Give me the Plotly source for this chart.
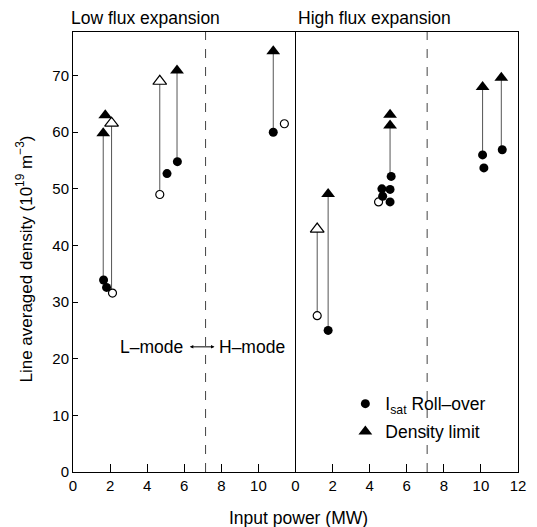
import plotly.graph_objects as go

# ---------------- data (input power MW, density 1e19 m^-3) ----------------
# Low flux expansion
low_tri_x = [1.63, 1.74, 5.61, 10.80]
low_tri_y = [59.8, 63.0, 70.9, 74.3]
low_otri_x = [2.08, 4.68]
low_otri_y = [61.6, 69.0]
low_circ_x = [1.65, 1.81, 5.07, 5.63, 10.80]
low_circ_y = [33.9, 32.6, 52.7, 54.8, 60.0]
low_ocirc_x = [2.13, 4.68, 11.40]
low_ocirc_y = [31.6, 49.0, 61.5]
# links: x, density limit, roll-over
low_link_x = [1.63, 2.08, 4.68, 5.61, 10.80]
low_link_top = [59.8, 61.6, 69.0, 70.9, 74.3]
low_link_bot = [33.9, 31.6, 49.0, 54.8, 60.0]

# High flux expansion
high_tri_x = [1.76, 5.10, 5.10, 10.09, 11.10]
high_tri_y = [49.1, 63.1, 61.2, 68.0, 69.6]
high_otri_x = [1.17]
high_otri_y = [42.9]
high_circ_x = [1.76, 5.16, 4.66, 5.10, 4.70, 5.10, 10.09, 10.16, 11.15]
high_circ_y = [25.0, 52.2, 50.0, 49.9, 48.7, 47.7, 56.0, 53.7, 56.9]
high_ocirc_x = [1.17, 4.48]
high_ocirc_y = [27.6, 47.7]
high_link_x = [1.17, 1.76, 5.10, 10.09, 11.10]
high_link_top = [42.9, 49.1, 61.2, 68.0, 69.6]
high_link_bot = [27.6, 25.0, 52.2, 56.0, 56.9]

lh_threshold = [7.15, 7.10]  # L-H transition power for each panel
y_ticks = [0, 10, 20, 30, 40, 50, 60, 70]

FONT = "Liberation Sans, Arial, Helvetica, sans-serif"
fig = go.Figure()


def link_xy(xs, tops, bots):
    X, Y = [], []
    for x, t, b in zip(xs, tops, bots):
        X += [x, x, None]
        Y += [t, b, None]
    return X, Y


for xa, ya, lx, lt, lb in [("x", "y", low_link_x, low_link_top, low_link_bot),
                            ("x2", "y2", high_link_x, high_link_top, high_link_bot)]:
    X, Y = link_xy(lx, lt, lb)
    fig.add_trace(go.Scatter(x=X, y=Y, mode="lines", xaxis=xa, yaxis=ya,
                             line=dict(color="#555555", width=1), showlegend=False,
                             hoverinfo="skip"))

# dashed L-H lines
for xa, ya, xv in [("x", "y", lh_threshold[0]), ("x2", "y2", lh_threshold[1])]:
    fig.add_trace(go.Scatter(x=[xv, xv], y=[0, 77.7], mode="lines", xaxis=xa, yaxis=ya,
                             line=dict(color="#444444", width=1, dash="dash"),
                             showlegend=False, hoverinfo="skip"))

circ = dict(symbol="circle", size=9, color="black")
tri = dict(symbol="triangle-up", size=12, color="black")
ocirc = dict(symbol="circle", size=8, color="white", line=dict(color="black", width=1.2))
otri = dict(symbol="triangle-up", size=12, color="white", line=dict(color="black", width=1.2))

panels = [("x", "y", low_tri_x, low_tri_y, low_otri_x, low_otri_y, low_circ_x, low_circ_y,
           low_ocirc_x, low_ocirc_y, True),
          ("x2", "y2", high_tri_x, high_tri_y, high_otri_x, high_otri_y, high_circ_x, high_circ_y,
           high_ocirc_x, high_ocirc_y, False)]
for xa, ya, tx, ty, otx, oty, cx, cy, ocx, ocy, leg in panels:
    fig.add_trace(go.Scatter(x=ocx, y=ocy, mode="markers", marker=ocirc, xaxis=xa, yaxis=ya,
                             showlegend=False))
    fig.add_trace(go.Scatter(x=otx, y=oty, mode="markers", marker=otri, xaxis=xa, yaxis=ya,
                             showlegend=False))
    fig.add_trace(go.Scatter(x=cx, y=cy, mode="markers", marker=circ, xaxis=xa, yaxis=ya,
                             name="I<sub>sat</sub> Roll\u2013over", showlegend=leg,
                             legendgroup="a"))
    fig.add_trace(go.Scatter(x=tx, y=ty, mode="markers", marker=tri, xaxis=xa, yaxis=ya,
                             name="Density limit", showlegend=leg, legendgroup="b"))

axis_common = dict(showline=True, linecolor="black", linewidth=1,
                   ticks="inside", tickcolor="black", showgrid=False, zeroline=False,
                   tickfont=dict(family=FONT, size=15, color="black"))
fig.update_layout(
    width=537, height=527,
    margin=dict(l=73, r=19, t=32, b=55),
    paper_bgcolor="white", plot_bgcolor="white",
    font=dict(family=FONT, size=15, color="black"),
    xaxis=dict(domain=[0, 0.5], range=[0, 12], tickvals=[0, 2, 4, 6, 8, 10], ticklen=8,
               anchor="y", mirror=True, **axis_common),
    xaxis2=dict(domain=[0.5, 1], range=[0, 12], tickvals=[0, 2, 4, 6, 8, 10, 12], ticklen=8,
                anchor="y2", mirror=True, **axis_common),
    yaxis=dict(range=[0, 77.7], tickvals=y_ticks, ticklen=5, anchor="x", mirror=False,
               **axis_common),
    yaxis2=dict(range=[0, 77.7], tickvals=y_ticks, ticklen=0, showticklabels=False,
                anchor="x2", matches="y", mirror=True, **axis_common),
    legend=dict(x=0.612, y=0.196, xanchor="left", yanchor="top", bgcolor="rgba(0,0,0,0)",
                font=dict(family=FONT, size=17.5), itemwidth=30, tracegroupgap=2,
                traceorder="grouped"),
    showlegend=True,
)

fig.add_annotation(text="Low flux expansion", xref="paper", yref="paper", x=-0.008, y=1.0,
                   xanchor="left", yanchor="bottom", yshift=2, showarrow=False,
                   font=dict(family=FONT, size=17.5))
fig.add_annotation(text="High flux expansion", xref="paper", yref="paper", x=0.502, y=1.0,
                   xanchor="left", yanchor="bottom", yshift=2, showarrow=False,
                   font=dict(family=FONT, size=17.5))
fig.add_annotation(text="Input power (MW)", xref="paper", yref="paper", x=0.506, y=-0.105,
                   xanchor="center", yanchor="middle", showarrow=False,
                   font=dict(family=FONT, size=17.5))
fig.add_annotation(text="Line averaged density (10<sup>19</sup> m<sup>\u22123</sup>)",
                   xref="paper", yref="paper", x=-0.109, y=0.484, textangle=-90,
                   xanchor="center", yanchor="middle", showarrow=False,
                   font=dict(family=FONT, size=17))
# L-mode <-> H-mode
fig.add_annotation(text="L\u2013mode", xref="x", yref="y", x=6.06, y=22.1, xanchor="right",
                   yanchor="middle", showarrow=False, font=dict(family=FONT, size=17.5))
fig.add_annotation(text="H\u2013mode", xref="x", yref="y", x=7.78, y=22.1, xanchor="left",
                   yanchor="middle", showarrow=False, font=dict(family=FONT, size=17.5))
fig.add_annotation(text="", xref="x", yref="y", x=7.63, y=22.1, axref="x", ayref="y",
                   ax=6.22, ay=22.1, showarrow=True, arrowhead=2, arrowsize=0.7,
                   arrowwidth=1, arrowside="end+start", arrowcolor="black")

fig.write_html("out.html")
